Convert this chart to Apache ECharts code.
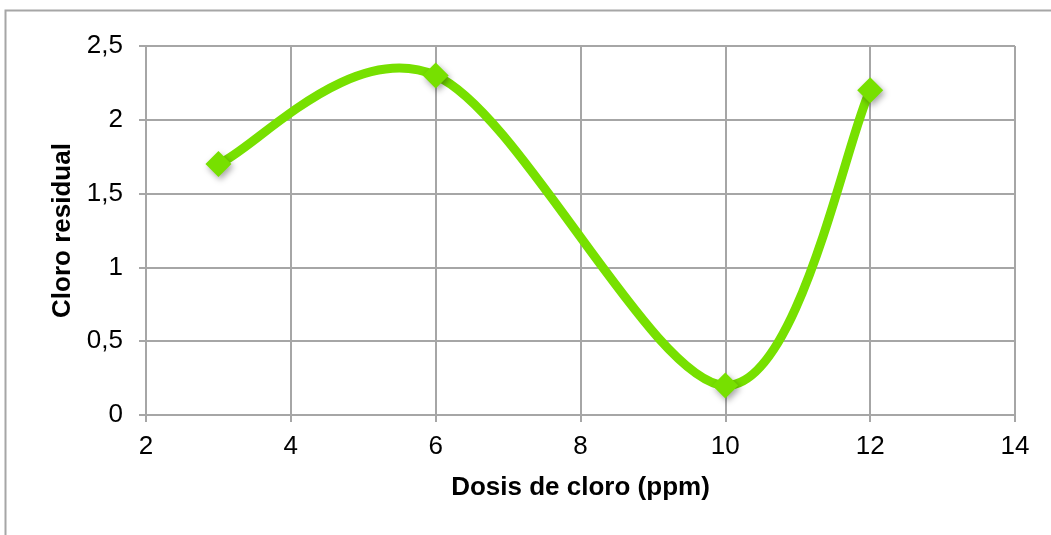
<!DOCTYPE html>
<html><head><meta charset="utf-8">
<script src="https://cdn.jsdelivr.net/npm/echarts@6/dist/echarts.min.js"></script>
<style>html,body{margin:0;padding:0;background:#fff}#c{width:1051px;height:535px}</style>
</head><body><div id="c"></div>
<script>
var dosis = [3, 6, 10, 12];
var cloro = [1.7, 2.3, 0.2, 2.2];
var xTitle = 'Dosis de cloro (ppm)';
var yTitle = 'Cloro residual';

var GREEN = '#77e000';
var chart = echarts.init(document.getElementById('c'), null, {renderer: 'canvas'});
var font = '"Liberation Sans", Arial, sans-serif';

// Excel-like smoothed segment (Catmull-Rom style Bezier) between point i and i+1
function renderSegment(params, api) {
  var i = params.dataIndex;
  if (i >= dosis.length - 1) return null;
  var P = dosis.map(function (d, k) { return api.coord([d, cloro[k]]); });
  var p0 = P[Math.max(i - 1, 0)], p1 = P[i], p2 = P[i + 1], p3 = P[Math.min(i + 2, P.length - 1)];
  var t = 1 / 6;
  var c1 = [p1[0] + (p2[0] - p0[0]) * t, p1[1] + (p2[1] - p0[1]) * t];
  var c2 = [p2[0] - (p3[0] - p1[0]) * t, p2[1] - (p3[1] - p1[1]) * t];
  return {
    type: 'bezierCurve',
    shape: {x1: p1[0], y1: p1[1], cpx1: c1[0], cpy1: c1[1], cpx2: c2[0], cpy2: c2[1], x2: p2[0], y2: p2[1]},
    style: {stroke: GREEN, lineWidth: 9, fill: null, lineCap: 'round'}
  };
}

var pts = dosis.map(function (d, i) { return [d, cloro[i]]; });
var axisGray = '#a6a6a6';
chart.setOption({
  animation: false,
  backgroundColor: '#fff',
  graphic: [{
    type: 'rect', shape: {x: 5.5, y: 10.5, width: 1100, height: 600},
    style: {fill: 'none', stroke: axisGray, lineWidth: 2}, z: -1
  }],
  grid: {left: 146, right: 36, top: 46, bottom: 120},
  xAxis: {
    type: 'value', min: 2, max: 14, interval: 2,
    name: xTitle, nameLocation: 'middle', nameGap: 60,
    nameTextStyle: {fontFamily: font, fontSize: 26, fontWeight: 'bold', color: '#000'},
    axisLine: {show: true, lineStyle: {color: axisGray, width: 2}},
    axisTick: {show: true, length: 7, lineStyle: {color: axisGray, width: 2}},
    axisLabel: {fontFamily: font, fontSize: 26, color: '#000', margin: 19},
    splitLine: {show: true, lineStyle: {color: axisGray, width: 2}}
  },
  yAxis: {
    type: 'value', min: 0, max: 2.5, interval: 0.5,
    name: yTitle, nameLocation: 'middle', nameGap: 67,
    nameTextStyle: {fontFamily: font, fontSize: 26, fontWeight: 'bold', color: '#000'},
    axisLine: {show: true, lineStyle: {color: axisGray, width: 2}},
    axisTick: {show: true, length: 7, lineStyle: {color: axisGray, width: 2}},
    axisLabel: {fontFamily: font, fontSize: 26, color: '#000', margin: 23,
      formatter: function (v) { return String(v).replace('.', ','); }},
    splitLine: {show: true, lineStyle: {color: axisGray, width: 2}}
  },
  series: [{
    type: 'custom',
    renderItem: renderSegment,
    data: pts,
    clip: false,
    z: 2
  }, {
    type: 'scatter',
    data: pts,
    symbol: 'diamond', symbolSize: 26,
    itemStyle: {color: GREEN, opacity: 1, shadowColor: 'rgba(0,0,0,0.35)', shadowBlur: 6, shadowOffsetX: 2, shadowOffsetY: 3},
    z: 3
  }]
});
</script></body></html>
